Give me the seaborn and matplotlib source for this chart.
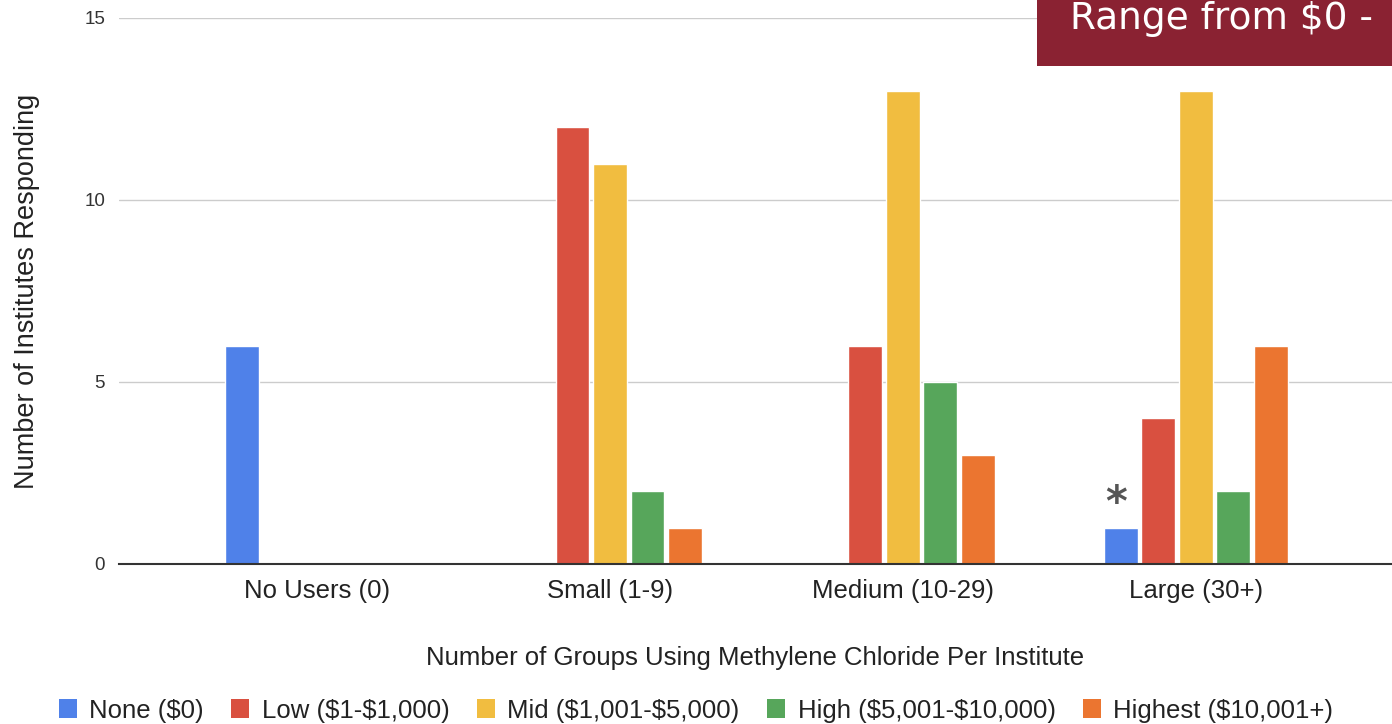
import matplotlib
matplotlib.use("Agg")
import matplotlib.pyplot as plt
import seaborn as sns
import pandas as pd
from matplotlib.patches import Rectangle, Patch

categories = ["No Users (0)", "Small (1-9)", "Medium (10-29)", "Large (30+)"]
cost_levels = ["None ($0)", "Low ($1-$1,000)", "Mid ($1,001-$5,000)",
               "High ($5,001-$10,000)", "Highest ($10,001+)"]
none_vals = [6, 0, 0, 1]
low_vals = [0, 12, 6, 4]
mid_vals = [0, 11, 13, 13]
high_vals = [0, 2, 5, 2]
highest_vals = [0, 1, 3, 6]
colors = ["#4f81e9", "#d95040", "#f1bd40", "#57a65b", "#eb7530"]
y_ticks = [0, 5, 10, 15]

series = [none_vals, low_vals, mid_vals, high_vals, highest_vals]
rows = []
for lvl, vals in zip(cost_levels, series):
    for c, v in zip(categories, vals):
        rows.append({"Group": c, "Cost": lvl, "Count": v})
df = pd.DataFrame(rows)

sns.set_theme(style="white")
plt.rcParams["font.family"] = ["Liberation Sans", "DejaVu Sans"]

fig = plt.figure(figsize=(13.92, 7.24), dpi=100)
ax = fig.add_axes([119 / 1392, (724 - 564) / 724, 1 - 119 / 1392, (564 - 18) / 724])

sns.barplot(data=df, x="Group", y="Count", hue="Cost", order=categories,
            hue_order=cost_levels, palette=colors, width=0.64, gap=0.1,
            saturation=1, ax=ax, legend=False)

ax.set_ylim(0, 15)
ax.set_xlim(-0.676, 3.67)
ax.set_yticks(y_ticks)
ax.yaxis.grid(True, color="#cccccc", linewidth=1)
ax.set_axisbelow(True)
for s in ["top", "right", "left"]:
    ax.spines[s].set_visible(False)
ax.spines["bottom"].set_color("#333333")
ax.spines["bottom"].set_linewidth(1.5)
ax.spines["bottom"].set_zorder(5)
ax.tick_params(axis="x", length=0, pad=11, labelsize=18.5, colors="#222222")
ax.tick_params(axis="y", length=0, pad=10, labelsize=13.5, colors="#333333")
ax.set_xlabel("Number of Groups Using Methylene Chloride Per Institute",
              fontsize=18.5, labelpad=31, color="#222222")
ax.set_ylabel("Number of Institutes Responding", fontsize=19.5,
              labelpad=32, color="#222222")

# asterisk above the 'None' bar in Large group
none_container = ax.containers[0]
bar = none_container[3]
ax.text(bar.get_x() + bar.get_width() / 2 - 0.015, bar.get_height() + 0.08, "*",
        ha="center", va="bottom", fontsize=30, color="#555555",
        family="DejaVu Sans", fontweight="bold")

handles = [Patch(facecolor=c, edgecolor="none") for c in colors]
labels = [lvl.replace("$", "\\$") for lvl in cost_levels]
leg = fig.legend(handles, labels, loc="lower center", bbox_to_anchor=(0.5, 0.0),
                 bbox_transform=fig.transFigure, ncol=5, frameon=False,
                 fontsize=18.5, handlelength=0.7, handleheight=0.75,
                 handletextpad=0.5, columnspacing=1.05, borderaxespad=0.05,
                 borderpad=0.0)
for t in leg.get_texts():
    t.set_color("#222222")

# header box
fig.patches.append(Rectangle((1037 / 1392, 1 - 66 / 724), 1 - 1037 / 1392, 66 / 724,
                             transform=fig.transFigure, facecolor="#8a2232",
                             edgecolor="none", zorder=10))
fig.text(1070 / 1392, 1 - 29 / 724, "Range from \\$0 -", color="white",
         fontsize=27, family="DejaVu Sans", va="baseline", ha="left", zorder=11)

fig.savefig("out.png", dpi=100)
